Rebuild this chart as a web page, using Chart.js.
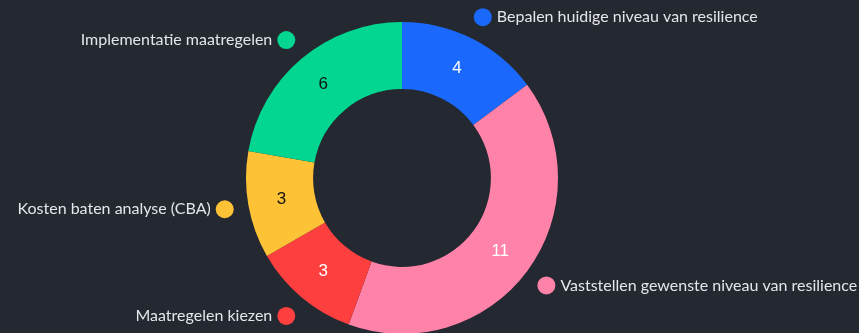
<!DOCTYPE html>
<html>
<head>
<meta charset="utf-8">
<script src="https://cdn.jsdelivr.net/npm/chart.js@4"></script>
<style>
  html, body { margin: 0; padding: 0; background: #242831; overflow: hidden; }
  #wrap { position: relative; width: 859px; height: 334px; }
</style>
</head>
<body>
<div id="wrap"><canvas id="myChart"></canvas></div>
<script>
const categories = [
  'Bepalen huidige niveau van resilience',
  'Vaststellen gewenste niveau van resilience',
  'Maatregelen kiezen',
  'Kosten baten analyse (CBA)',
  'Implementatie maatregelen'
];
const values = [4, 11, 3, 3, 6];

const sliceColors = ['#1a69fc', '#ff82a9', '#fe3f3f', '#fdc236', '#03d690'];
const valueTextColors = ['#ffffff', '#ffffff', '#ffffff', '#111111', '#111111'];

// draws the numbers inside the ring and the dot + name outside each slice
const sliceLabels = {
  id: 'sliceLabels',
  afterDatasetsDraw(chart) {
    const c = chart.ctx;
    const meta = chart.getDatasetMeta(0);
    meta.data.forEach((arc, i) => {
      const p = arc.getProps(['x', 'y', 'startAngle', 'endAngle', 'innerRadius', 'outerRadius'], true);
      const mid = (p.startAngle + p.endAngle) / 2;
      const cos = Math.cos(mid), sin = Math.sin(mid);

      // value in the middle of the ring
      const rv = (p.innerRadius + p.outerRadius) / 2;
      c.save();
      c.font = '17px "Liberation Sans", Arial, sans-serif';
      c.fillStyle = valueTextColors[i];
      c.textAlign = 'center';
      c.textBaseline = 'middle';
      c.fillText(String(values[i]), p.x + rv * cos, p.y + rv * sin);

      // dot and category name outside
      const rd = p.outerRadius + 24;
      const dx = p.x + rd * cos, dy = p.y + rd * sin;
      c.beginPath();
      c.arc(dx, dy, 9, 0, Math.PI * 2);
      c.fillStyle = sliceColors[i];
      c.fill();

      c.font = '16px Lato, "Noto Sans", sans-serif';
      c.fillStyle = '#e4e5e8';
      c.textBaseline = 'middle';
      if (cos >= 0) {
        c.textAlign = 'left';
        c.fillText(categories[i], dx + 14, dy);
      } else {
        c.textAlign = 'right';
        c.fillText(categories[i], dx - 14, dy);
      }
      c.restore();
    });
  }
};

const ctx = document.getElementById('myChart');
new Chart(ctx, {
  type: 'doughnut',
  data: {
    labels: categories,
    datasets: [{
      data: values,
      backgroundColor: sliceColors,
      borderWidth: 0
    }]
  },
  options: {
    responsive: true,
    maintainAspectRatio: false,
    animation: false,
    cutout: '57%',
    layout: { padding: { top: 22, bottom: 0, left: 0, right: 55 } },
    events: [],
    plugins: {
      legend: { display: false },
      tooltip: { enabled: false }
    }
  },
  plugins: [sliceLabels]
});
</script>
</body>
</html>
